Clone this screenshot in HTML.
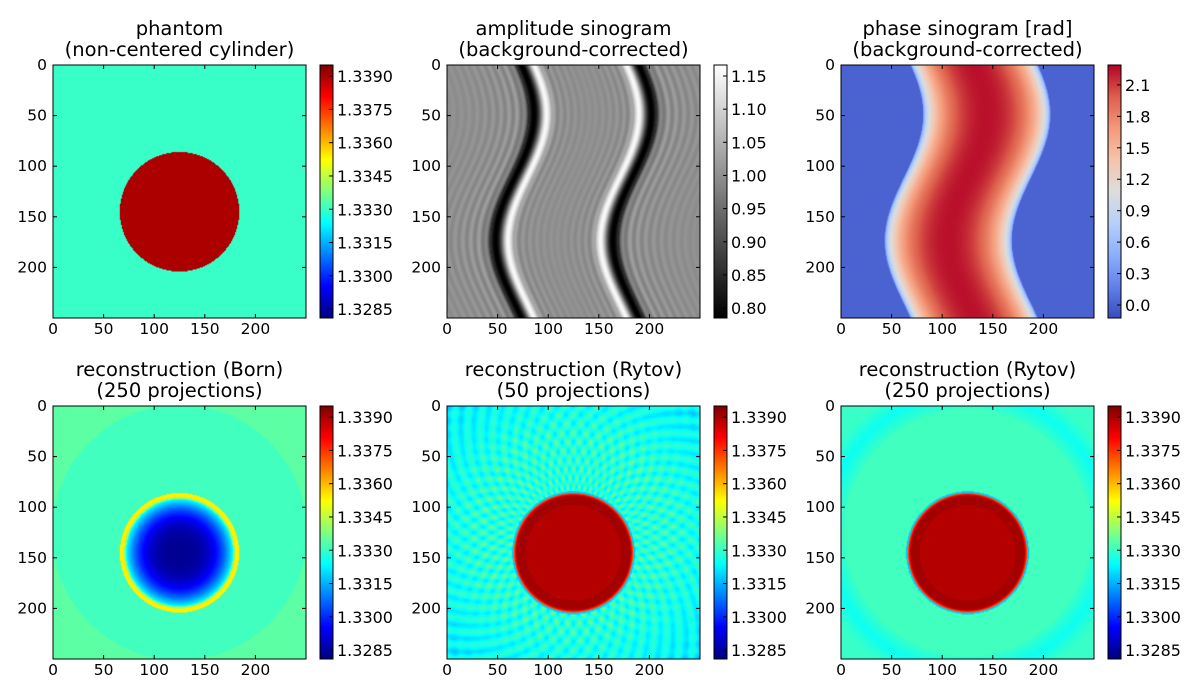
<!DOCTYPE html>
<html><head><meta charset="utf-8"><style>
html,body{margin:0;padding:0;background:#fff;width:1200px;height:700px;overflow:hidden}
#fig{position:relative;width:1200px;height:700px}
canvas{position:absolute}
svg{position:absolute;left:0;top:0}
text{font-family:"DejaVu Sans","Liberation Sans",sans-serif;fill:#000}
</style></head><body>
<div id="fig"></div>
<script>
// ---- data ----
const titlesTop = ["phantom","amplitude sinogram","phase sinogram [rad]","reconstruction (Born)","reconstruction (Rytov)","reconstruction (Rytov)"];
const titlesBottom = ["(non-centered cylinder)","(background-corrected)","(background-corrected)","(250 projections)","(50 projections)","(250 projections)"];
const axisTicks = [0,50,100,150,200];
const riTicks = [1.3285,1.3300,1.3315,1.3330,1.3345,1.3360,1.3375,1.3390];
const riLabels = ["1.3285","1.3300","1.3315","1.3330","1.3345","1.3360","1.3375","1.3390"];
const ampTicks = [0.80,0.85,0.90,0.95,1.00,1.05,1.10,1.15];
const ampLabels = ["0.80","0.85","0.90","0.95","1.00","1.05","1.10","1.15"];
const phaseTicks = [0.0,0.3,0.6,0.9,1.2,1.5,1.8,2.1];
const phaseLabels = ["0.0","0.3","0.6","0.9","1.2","1.5","1.8","2.1"];
const riRange = [1.3281,1.3395];
const ampRange = [0.785,1.1666];
const phaseRange = [-0.124,2.29];
const cylCenter = [125,145];
const cylRadius = [59];
const riValues = [1.3330,1.3390]; // background, cylinder
const phaseMax = [2.25];
const sinoShift = [125,19,14]; // mean, amplitude, phase offset (rows)

const N = 250;
const colX = [53,447,841], rowY = [65,406], S = 253;
const fig = document.getElementById('fig');
const NS = "http://www.w3.org/2000/svg";
const svg = document.createElementNS(NS,'svg');
svg.setAttribute('width','1200');svg.setAttribute('height','700');



function cl(v){return Math.max(0,Math.min(1,v));}
function jet(t){return [cl(1.5-Math.abs(4*t-3)),cl(1.5-Math.abs(4*t-2)),cl(1.5-Math.abs(4*t-1))].map(v=>v*255);}
function gray(t){t=cl(t);return [t*255,t*255,t*255];}
const cwStops=[[59,76,192],[98,130,234],[141,176,254],[184,208,249],[221,221,221],[245,196,173],[244,154,123],[222,96,77],[180,4,38]];
function coolwarm(t){t=cl(t)*8;const i=Math.min(7,Math.floor(t)),f=t-i;const a=cwStops[i],b=cwStops[i+1];return [0,1,2].map(k=>a[k]+(b[k]-a[k])*f);}

function sc(v,r){return (v-r[0])/(r[1]-r[0]);}
function cyl(x,y){return Math.hypot(x-cylCenter[0],y-cylCenter[1])/cylRadius[0];}
function gauss(x,s){return Math.exp(-x*x/(2*s*s));}
function rim(d){
  if(d<0.80) return 1.3389;
  if(d<0.95) return 1.3391;
  if(d<1.0) return 1.3391-(d-0.95)/0.05*0.0022;
  if(d<1.03) return 1.3318;
  return null;}

const fields = [
 (x,y)=> cyl(x,y)<1?riValues[1]:riValues[0],
 (x,y)=>{ const c=sinoShift[0]+sinoShift[1]*Math.sin(2*Math.PI*(y+sinoShift[2])/N); const r=cylRadius[0];
   const eL=x-(c-r), eR=(c+r)-x; let v=1.0;
   v+=-0.22*gauss(eL-1,5)+0.17*gauss(eL-13,3.5);
   v+=-0.22*gauss(eR-1,5)+0.17*gauss(eR-13,3.5);
   if(eL<-4) v+=0.035*Math.cos(0.8*eL)*Math.exp(eL/40); if(eR<-4) v+=0.035*Math.cos(0.8*eR)*Math.exp(eR/40);
   if(eL>18&&eR>18) v+=0.02*Math.cos(0.9*Math.min(eL,eR))*Math.exp(-(Math.min(eL,eR)-18)/30);
   return v;},
 (x,y)=>{ const c=sinoShift[0]+sinoShift[1]*Math.sin(2*Math.PI*(y+sinoShift[2])/N); const u=(x-c)/(cylRadius[0]+4);
   return Math.abs(u)<1?phaseMax[0]*Math.pow(1-u*u,0.45):0;},
 (x,y)=>{ const d=cyl(x,y); const rho=Math.hypot(x-125,y-125);
   if(d<0.9){ return 1.3283+(1.3325-1.3283)*Math.pow(d/0.9,3);}
   if(d<0.93) return 1.3340;
   if(d<1.0) return 1.3354;
   return rho>126?1.3334:1.3331;},
 (x,y)=>{ const d=cyl(x,y); const rho=Math.hypot(x-125,y-125), ph=Math.atan2(y-125,x-125);
   const r=rim(d); if(r!==null) return r;
   let v=1.3328+0.00035*(Math.cos(50*ph+0.35*rho)+Math.cos(50*ph-0.35*rho));
   if(rho>95) v-=0.0006*((rho-95)/80)*(1+Math.cos(50*ph+0.35*rho));
   return v;},
 (x,y)=>{ const d=cyl(x,y); const rho=Math.hypot(x-125,y-125);
   const r=rim(d); if(r!==null) return r;
   if(rho>122) return 1.3330-0.0005*Math.max(0,1-Math.abs(rho-138)/16);
   return 1.3331;}
];
const cmaps=[jet,gray,coolwarm,jet,jet,jet];
const ranges=[riRange,ampRange,phaseRange,riRange,riRange,riRange];
const ctick=[riTicks,ampTicks,phaseTicks,riTicks,riTicks,riTicks];
const clab=[riLabels,ampLabels,phaseLabels,riLabels,riLabels,riLabels];
const names=["phantom","amplitude-sinogram","phase-sinogram","born-250","rytov-50","rytov-250"];

function line(x1,y1,x2,y2,w){const l=document.createElementNS(NS,'line');l.setAttribute('x1',x1);l.setAttribute('y1',y1);l.setAttribute('x2',x2);l.setAttribute('y2',y2);l.setAttribute('stroke','#000');l.setAttribute('stroke-width',w||1);


svg.appendChild(l);}
function txt(x,y,s,anchor,size,name){const t=document.createElementNS(NS,'text');t.setAttribute('x',x);t.setAttribute('y',y);t.setAttribute('text-anchor',anchor);t.setAttribute('font-size',size);t.textContent=s;


svg.appendChild(t);}

for(let p=0;p<6;p++){
 const X=colX[p%3], Y=rowY[Math.floor(p/3)];
 const cv=document.createElement('canvas'); cv.width=N; cv.height=N;
 cv.style.left=X+'px'; cv.style.top=Y+'px'; cv.style.width=S+'px'; cv.style.height=S+'px';
 
 
 const ctx=cv.getContext('2d'); const im=ctx.createImageData(N,N);
 for(let y=0;y<N;y++)for(let x=0;x<N;x++){const c=cmaps[p](sc(fields[p](x+0.5,y+0.5),ranges[p]));const i=(y*N+x)*4;im.data[i]=c[0];im.data[i+1]=c[1];im.data[i+2]=c[2];im.data[i+3]=255;}
 ctx.putImageData(im,0,0); fig.appendChild(cv);
 const CX=X+267, CW=13;
 const cb=document.createElement('canvas'); cb.width=1; cb.height=S;
 cb.style.left=CX+'px'; cb.style.top=Y+'px'; cb.style.width=CW+'px'; cb.style.height=S+'px';
 
 
 const bx=cb.getContext('2d'); const bi=bx.createImageData(1,S);
 for(let k=0;k<S;k++){const c=cmaps[p](1-k/(S-1));bi.data[k*4]=c[0];bi.data[k*4+1]=c[1];bi.data[k*4+2]=c[2];bi.data[k*4+3]=255;}
 bx.putImageData(bi,0,0); fig.appendChild(cb);
 const fr=document.createElementNS(NS,'rect');fr.setAttribute('x',X);fr.setAttribute('y',Y);fr.setAttribute('width',S);fr.setAttribute('height',S);fr.setAttribute('fill','none');fr.setAttribute('stroke','#000');fr.setAttribute('stroke-width','1');
 
 
 svg.appendChild(fr);
 const fb=document.createElementNS(NS,'rect');fb.setAttribute('x',CX);fb.setAttribute('y',Y);fb.setAttribute('width',CW);fb.setAttribute('height',S);fb.setAttribute('fill','none');fb.setAttribute('stroke','#000');fb.setAttribute('stroke-width','1');
 
 
 svg.appendChild(fb);
 const k=S/N;
 axisTicks.forEach(v=>{const px=X+v*k, py=Y+v*k;
   line(px,Y,px,Y+4);line(px,Y+S,px,Y+S-4);line(X,py,X+4,py);line(X+S,py,X+S-4,py);
   txt(px,Y+S+16,String(v),'middle',15.5,'x-tick-label');
   txt(X-6,py+5,String(v),'end',15.5,'y-tick-label');});
 ctick[p].forEach((v,i)=>{const py=Y+S*(1-sc(v,ranges[p]));
   line(CX+CW-4,py,CX+CW,py);
   txt(CX+CW+4,py+6,clab[p][i],'start',16,'colorbar-tick-label');});
 txt(X+S/2,Y-30,titlesTop[p],'middle',19.5,'title-line1');
 txt(X+S/2,Y-9,titlesBottom[p],'middle',19.5,'title-line2');
}
fig.appendChild(svg);
</script>
</body></html>
